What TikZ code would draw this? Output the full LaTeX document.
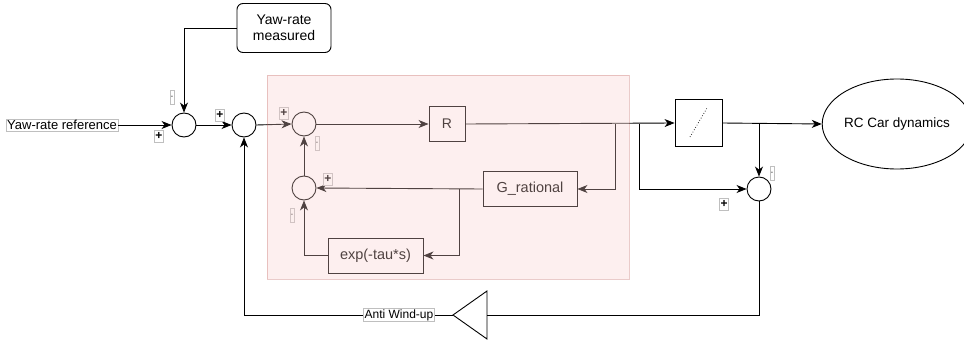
\documentclass[tikz,border=0pt]{standalone}
\usepackage{fontspec}
\setmainfont{Liberation Sans}
\usetikzlibrary{arrows.meta,shapes.geometric}
\definecolor{pinkfill}{HTML}{F8CECC}
\definecolor{pinkdraw}{HTML}{B85450}
\tikzset{
  every node/.style={font=\fontsize{13}{15}\selectfont},
  wire/.style={line width=0.9pt, draw=black},
  arr/.style={wire, -{Stealth[length=10pt,width=8pt,inset=3pt]}},
  sumnode/.style={circle, draw, line width=0.9pt, minimum size=24pt, inner sep=0pt},
  blockbox/.style={rectangle, draw, line width=0.9pt, inner sep=0pt},
  lblbox/.style={draw=black!25, line width=0.5pt, inner sep=1pt, minimum width=8pt, minimum height=12pt, fill=white, font=\fontsize{12}{12}\selectfont\bfseries},
  minusbox/.style={draw=black!25, line width=0.5pt, inner sep=0pt, minimum width=3.5pt, minimum height=14pt, fill=white, font=\fontsize{7}{8}\selectfont},
  textlbl/.style={draw=black!25, line width=0.5pt, inner sep=1pt, fill=white},
}
\begin{document}
\begin{tikzpicture}[x=1pt,y=-1pt]
\useasboundingbox (0,0) rectangle (964,345);

% nodes
\node[blockbox, rounded corners=6pt, minimum width=94pt, minimum height=49pt, align=center, font=\fontsize{14}{16}\selectfont] (meas) at (284,28) {Yaw-rate\\measured};
\node[textlbl] (refl) at (62,125) {Yaw-rate reference};
\node[sumnode] (s1) at (184,125) {};
\node[sumnode] (s2) at (244,125) {};
\node[sumnode] (s3) at (304,124) {};
\node[blockbox, minimum width=36pt, minimum height=35pt, font=\fontsize{14}{16}\selectfont] (R) at (447,124) {R};
\node[blockbox, minimum width=94pt, minimum height=35pt, font=\fontsize{14.5}{16}\selectfont] (G) at (530,189) {G\_rational};
\node[sumnode] (s4) at (304,188) {};
\node[blockbox, minimum width=95pt, minimum height=35pt, font=\fontsize{14.5}{16}\selectfont] (ex) at (375.5,255.5) {exp(-tau*s)};
\node[blockbox, minimum width=47pt, minimum height=47pt] (sat) at (698.5,123) {};
\draw[line width=0.7pt, dotted] (690,137) -- (707,108);
\node[ellipse, draw, line width=0.9pt, minimum width=132pt, minimum height=90pt, inner sep=0pt, font=\fontsize{13.5}{15}\selectfont] (rc) at (897,124) {RC Car dynamics};
\node[sumnode] (s5) at (759,189) {};

% triangle (anti wind-up gain)
\coordinate (tritip) at (453,315);
\coordinate (tribase) at (487,315);
\draw[line width=0.9pt] (453,315) -- (487,291) -- (487,339) -- cycle;

% branch points
\coordinate (b1) at (615,124);
\coordinate (b2) at (639,124);
\coordinate (b3) at (459,189);
\coordinate (b4) at (759,123);

% connectors
\draw[arr] (refl.east) -- (s1.west);
\draw[arr] (meas.west) -| (s1.north);
\draw[arr] (s1.east) -- (s2.west);
\draw[arr] (s2.east) -- (s3.west);
\draw[arr] (s3.east) -- (R.west);
\draw[arr] (R.east) -- (sat.west);
\draw[arr] (b1) |- (G.east);
\draw[arr] (G.west) -- (s4.east);
\draw[arr] (b3) |- (ex.east);
\draw[arr] (ex.west) -| (s4.south);
\draw[arr] (s4.north) -- (s3.south);
\draw[arr] (b2) |- (s5.west);
\draw[arr] (sat.east) -- (rc.west);
\draw[arr] (b4) -- (s5.north);
\draw[wire] (s5.south) |- (tribase);
\draw[arr] (tritip) -| (s2.south);
\node[textlbl, font=\fontsize{12}{14}\selectfont] (anti) at (399,315) {Anti Wind-up};

% sign labels
\node[lblbox] (p1) at (159,136) {+};
\node[minusbox] (m1) at (172,97) {-};
\node[lblbox] (p2) at (220,115) {+};
\node[lblbox] (p3) at (284,113) {+};
\node[minusbox] (m3) at (317,143) {-};
\node[lblbox] (p4) at (328,179) {+};
\node[minusbox] (m4) at (292,215) {-};
\node[minusbox] (m5) at (772,173) {-};
\node[lblbox] (p5) at (724,204) {+};

% pink overlay region
\fill[pinkfill, fill opacity=0.32] (267,75) rectangle (629,279);
\draw[pinkdraw, draw opacity=0.3, line width=0.8pt] (267,75) rectangle (629,279);
\end{tikzpicture}
\end{document}
